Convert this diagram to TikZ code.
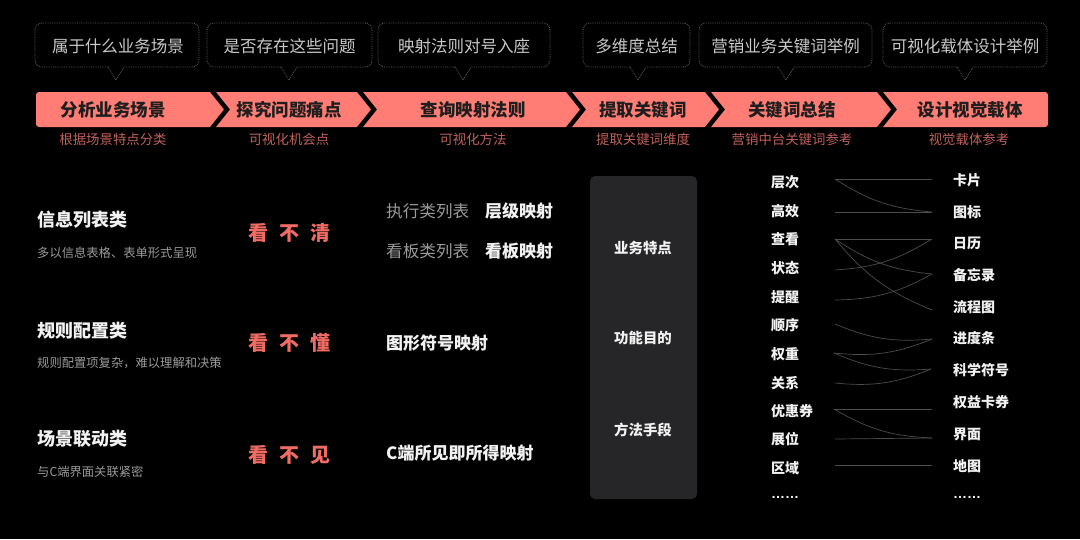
\documentclass[tikz,border=0pt]{standalone}
\usepackage{fontspec}
\setmainfont{Noto Sans CJK SC}
\newfontfamily\latinfont{Liberation Sans}
\definecolor{barcol}{HTML}{FF7D74}
\definecolor{bartext}{HTML}{1E1E1E}
\definecolor{subcol}{HTML}{C0615B}
\definecolor{redtext}{HTML}{F26C65}
\definecolor{ctextcol}{HTML}{C9C9C9}
\definecolor{clinecol}{HTML}{5E5E5E}
\definecolor{whitetext}{HTML}{F2F2F2}
\definecolor{desccol}{HTML}{9A9A9A}
\definecolor{darkboxcol}{HTML}{262628}
\definecolor{linkcol}{HTML}{4C4C4C}
\begin{document}
\begin{tikzpicture}[x=1pt,y=-1pt,
  fs/.style={font=\fontsize{#1pt}{#1pt}\selectfont},
  fsb/.style={font=\fontsize{#1pt}{#1pt}\selectfont\bfseries},
  cline/.style={draw=clinecol, line width=0.8pt, densely dotted},
  ctext/.style={fs=16.5, text=ctextcol, inner sep=0pt},
  bartxt/.style={fsb=17.5, text=bartext, inner sep=0pt},
  subtxt/.style={fs=13.4, text=subcol, inner sep=0pt},
  ttl/.style={fsb=18, text=whitetext, inner sep=0pt, anchor=west},
  dsc/.style={fs=12.3, text=desccol, inner sep=0pt, anchor=west},
  redtxt/.style={fsb=20, text=redtext, inner sep=0pt},
  graytxt/.style={fs=16.6, text=desccol, inner sep=0pt, anchor=west},
  boldtxt/.style={fsb=17, text=whitetext, inner sep=0pt, anchor=west},
  darkbox/.style={fill=darkboxcol, rounded corners=5pt, minimum width=107pt, minimum height=323pt, inner sep=0pt},
  boxtxt/.style={fsb=14.4, text=whitetext, inner sep=0pt},
  kw/.style={fsb=14, text=whitetext, inner sep=0pt, anchor=west},
  link/.style={draw=linkcol, line width=0.7pt},
  chev/.style={draw=black, line width=4.5pt, miter limit=10}
]
\fill[black] (0,0) rectangle (1080,539);
\useasboundingbox (0,0) rectangle (1080,539);

% callout boxes
\foreach \a/\b/\p in {35/199/116, 207/372/289, 378/550/463, 583/690/638, 699/872/786, 883/1047/965} {
  \draw[cline, rounded corners=7pt] (\p-8,67) -- (\a,67) -- (\a,23) -- (\b,23) -- (\b,67) -- (\p+8,67);
  \draw[cline] (\p-8,67) -- (\p,80) -- (\p+8,67);
}
\node[ctext] (c1) at (118,46) {属于什么业务场景};
\node[ctext] (c2) at (289.5,46) {是否存在这些问题};
\node[ctext] (c3) at (464,46) {映射法则对号入座};
\node[ctext] (c4) at (636.5,46) {多维度总结};
\node[ctext] (c5) at (785.5,46) {营销业务关键词举例};
\node[ctext] (c6) at (965,46) {可视化载体设计举例};

% process bar
\fill[barcol, rounded corners=3pt] (36,92) rectangle (1048,127);
\foreach \x in {209,356,565,704,876} {
  \draw[chev] (\x,87) -- (\x+18,109.5) -- (\x,132);
}
\node[bartxt] (b1) at (113,110) {分析业务场景};
\node[bartxt] (b2) at (289,110) {探究问题痛点};
\node[bartxt] (b3) at (473,110) {查询映射法则};
\node[bartxt] (b4) at (643,110) {提取关键词};
\node[bartxt] (b5) at (792,110) {关键词总结};
\node[bartxt] (b6) at (970,110) {设计视觉载体};

\node[subtxt] (s1) at (113,139) {根据场景特点分类};
\node[subtxt] (s2) at (289,139) {可视化机会点};
\node[subtxt] (s3) at (473,139) {可视化方法};
\node[subtxt] (s4) at (643,139) {提取关键词维度};
\node[subtxt] (s5) at (792,139) {营销中台关键词参考};
\node[subtxt] (s6) at (969,139) {视觉载体参考};

% left column
\node[ttl] (t1) at (37,220) {信息列表类};
\node[dsc] (d1) at (37,253) {多以信息表格、表单形式呈现};
\node[ttl] (t2) at (37,331) {规则配置类};
\node[dsc] (d2) at (37,363) {规则配置项复杂，难以理解和决策};
\node[ttl] (t3) at (37,439) {场景联动类};
\node[dsc] (d3) at (37,472) {与C端界面关联紧密};

% pain points
\node[redtxt] (p1) at (289,233) {看\hspace{11pt}不\hspace{11pt}清};
\node[redtxt] (p2) at (289,343) {看\hspace{11pt}不\hspace{11pt}懂};
\node[redtxt] (p3) at (289,455) {看\hspace{11pt}不\hspace{11pt}见};

% mapping methods
\node[graytxt] (m1a) at (386,211) {执行类列表};
\node[boldtxt] (m1b) at (485,211) {层级映射};
\node[graytxt] (m2a) at (386,251) {看板类列表};
\node[boldtxt] (m2b) at (485,251) {看板映射};
\node[boldtxt] (m3) at (386,343) {图形符号映射};
\node[boldtxt] (m4) at (386,453) {C端所见即所得映射};

% dark box
\node[darkbox] (db) at (643.5,337.5) {};
\node[boxtxt] (k1) at (643,248) {业务特点};
\node[boxtxt] (k2) at (643,338) {功能目的};
\node[boxtxt] (k3) at (643,430) {方法手段};

% keywords left
\node[kw] (wA) at (771,182) {层次};
\node[kw] (wB) at (771,211) {高效};
\node[kw] (wC) at (771,239) {查看};
\node[kw] (wD) at (771,268) {状态};
\node[kw] (wE) at (771,297) {提醒};
\node[kw] (wF) at (771,325) {顺序};
\node[kw] (wG) at (771,354) {权重};
\node[kw] (wH) at (771,383) {关系};
\node[kw] (wI) at (771,411) {优惠券};
\node[kw] (wJ) at (771,439) {展位};
\node[kw] (wK) at (771,468) {区域};
\node[kw, font=\fontsize{14pt}{14pt}\selectfont\latinfont\bfseries] (wL) at (771,497) {……};

% keywords right
\node[kw] (vA) at (953,180) {卡片};
\node[kw] (vB) at (953,212) {图标};
\node[kw] (vC) at (953,243) {日历};
\node[kw] (vD) at (953,275) {备忘录};
\node[kw] (vE) at (953,307) {流程图};
\node[kw] (vF) at (953,338) {进度条};
\node[kw] (vG) at (953,370) {科学符号};
\node[kw] (vH) at (953,402) {权益卡券};
\node[kw] (vI) at (953,434) {界面};
\node[kw] (vJ) at (953,466) {地图};
\node[kw, font=\fontsize{14pt}{14pt}\selectfont\latinfont\bfseries] (vK) at (953,497) {……};

% link end points
\coordinate (lA) at (835,179);
\coordinate (lB) at (835,212);
\coordinate (lC) at (835,239);
\coordinate (lD) at (835,270);
\coordinate (lE) at (835,300);
\coordinate (lF) at (835,324);
\coordinate (lG) at (834,353);
\coordinate (lH) at (835,383);
\coordinate (lI) at (834,409);
\coordinate (lJ) at (835,439);
\coordinate (lK) at (835,465);
\coordinate (rA) at (932,179);
\coordinate (rB) at (932,212);
\coordinate (rC) at (932,239);
\coordinate (rD) at (932,274);
\coordinate (rE) at (932,310);
\coordinate (rF) at (932,339);
\coordinate (rG) at (931,369);
\coordinate (rH) at (932,409);
\coordinate (rI) at (932,438);
\coordinate (rJ) at (932,465);

\draw[link] (lA) -- (rA);
\draw[link] (lA) to[bend right=14] (rB);
\draw[link] (lB) -- (rB);
\draw[link] (lC) -- (rC);
\draw[link] (lC) to[bend right=14] (rD);
\draw[link] (lC) to[bend right=14] (rE);
\draw[link] (lD) to[bend right=14] (rC);
\draw[link] (lE) to[bend right=14] (rD);
\draw[link] (lF) to[bend right=14] (rF);
\draw[link] (lG) to[bend right=14] (rF);
\draw[link] (lG) to[bend right=14] (rG);
\draw[link] (lH) to[bend right=14] (rG);
\draw[link] (lI) -- (rH);
\draw[link] (lI) to[bend right=14] (rI);
\draw[link] (lJ) -- (rI);
\draw[link] (lK) -- (rJ);
\end{tikzpicture}
\end{document}
